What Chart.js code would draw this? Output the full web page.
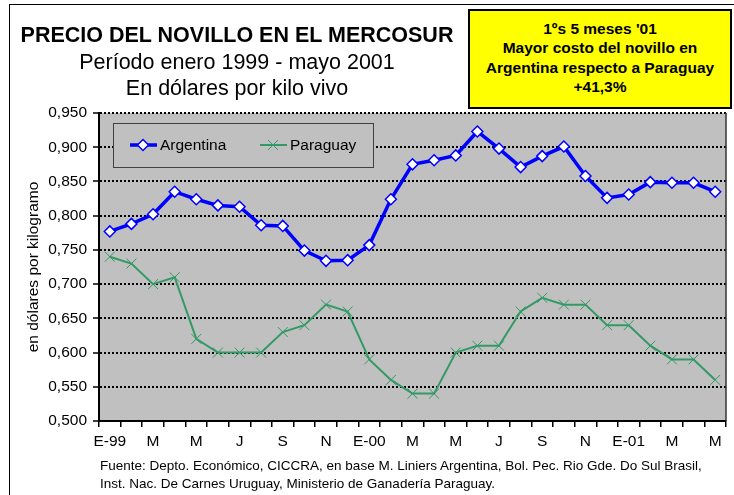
<!DOCTYPE html>
<html>
<head>
<meta charset="utf-8">
<script src="https://cdn.jsdelivr.net/npm/chart.js@4"></script>
<style>
  body { margin: 0; background: #fff; font-family: Arial, "Liberation Sans", sans-serif; }
  #wrap { position: relative; width: 734px; height: 495px; overflow: hidden; }
  #frame { position: absolute; left: 9px; top: 4px; width: 800px; height: 600px; border-left: 1.5px solid #000; border-top: 1.5px solid #000; }
  canvas { position: absolute; left: 0; top: 0; }
  .t { position: absolute; left: 0; width: 474px; text-align: center; color: #000; white-space: nowrap; }
  #title { top: 22px; font-size: 21.5px; font-weight: bold; line-height: 26px; }
  #sub1 { top: 49px; font-size: 21.5px; line-height: 26px; }
  #sub2 { top: 75px; font-size: 21.5px; line-height: 26px; }
  #note { position: absolute; left: 468px; top: 9px; width: 260px; height: 96px; background: #ffff00; border: 2px solid #000;
          text-align: center; font-size: 15.5px; font-weight: bold; line-height: 19.3px; padding-top: 8px; box-sizing: content-box; height: 88px; }
  #src { position: absolute; left: 100px; top: 457px; font-size: 13.5px; line-height: 18px; white-space: nowrap; }
</style>
</head>
<body>
<div id="wrap">
  <div id="frame"></div>
  <canvas id="chart" width="734" height="495"></canvas>
  <div class="t" id="title">PRECIO DEL NOVILLO EN EL MERCOSUR</div>
  <div class="t" id="sub1">Período enero 1999 - mayo 2001</div>
  <div class="t" id="sub2">En dólares por kilo vivo</div>
  <div id="note">1ºs 5 meses '01<br>Mayor costo del novillo en<br>Argentina respecto a Paraguay<br>+41,3%</div>
  <div id="src">Fuente: Depto. Económico, CICCRA, en base M. Liniers Argentina, Bol. Pec. Rio Gde. Do Sul Brasil,<br>Inst. Nac. De Carnes Uruguay, Ministerio de Ganadería Paraguay.</div>
</div>
<script>
// months Jan 1999 - May 2001
const months = ['E-99','F','M','A','M','J','J','A','S','O','N','D',
                'E-00','F','M','A','M','J','J','A','S','O','N','D',
                'E-01','F','M','A','M'];

const argentina = [0.777, 0.788, 0.802, 0.835, 0.824, 0.815, 0.813, 0.786, 0.785, 0.749, 0.734, 0.735,
                   0.757, 0.824, 0.875, 0.881, 0.888, 0.923, 0.898, 0.871, 0.887, 0.901, 0.858, 0.826,
                   0.831, 0.849, 0.848, 0.848, 0.835];

const paraguay = [0.74, 0.73, 0.70, 0.71, 0.62, 0.60, 0.60, 0.60, 0.63, 0.64, 0.67, 0.66,
                  0.59, 0.56, 0.54, 0.54, 0.60, 0.61, 0.61, 0.66, 0.68, 0.67, 0.67, 0.64,
                  0.64, 0.61, 0.59, 0.59, 0.56];

const yMin = 0.5, yMax = 0.95, yStep = 0.05;

const FONT = 'Arial, "Liberation Sans", sans-serif';

// gray plot background + right border + legend box
const plotDecor = {
    id: 'plotDecor',
    beforeDraw(chart) {
        const a = chart.chartArea, ctx = chart.ctx;
        ctx.save();
        ctx.fillStyle = '#c0c0c0';
        ctx.fillRect(a.left, a.top, a.right - a.left, a.bottom - a.top);
        ctx.restore();
    },
    afterDraw(chart) {
        const a = chart.chartArea, ctx = chart.ctx;
        ctx.save();
        ctx.strokeStyle = '#333';
        ctx.lineWidth = 1.5;
        ctx.beginPath();
        ctx.moveTo(a.right, a.top);
        ctx.lineTo(a.right, a.bottom);
        ctx.stroke();

        // legend
        const lx = 113, ly = 123, lw = 260, lh = 44, cy = ly + lh / 2;
        ctx.fillStyle = '#c0c0c0';
        ctx.fillRect(lx, ly, lw, lh);
        ctx.strokeStyle = '#404040';
        ctx.lineWidth = 1;
        ctx.strokeRect(lx + 0.5, ly + 0.5, lw, lh);

        const ds = chart.data.datasets;
        // Argentina
        ctx.strokeStyle = ds[0].borderColor;
        ctx.lineWidth = ds[0].borderWidth;
        ctx.beginPath(); ctx.moveTo(130, cy); ctx.lineTo(157, cy); ctx.stroke();
        ctx.fillStyle = '#fff';
        ctx.strokeStyle = ds[0].pointBorderColor;
        ctx.lineWidth = ds[0].pointBorderWidth;
        const r = ds[0].pointRadius;
        ctx.beginPath();
        ctx.moveTo(143 - r, cy); ctx.lineTo(143, cy - r); ctx.lineTo(143 + r, cy); ctx.lineTo(143, cy + r); ctx.closePath();
        ctx.fill(); ctx.stroke();
        // Paraguay
        ctx.strokeStyle = ds[1].borderColor;
        ctx.lineWidth = ds[1].borderWidth;
        ctx.beginPath(); ctx.moveTo(260, cy); ctx.lineTo(287, cy); ctx.stroke();
        ctx.lineWidth = ds[1].pointBorderWidth;
        const q = ds[1].pointRadius * Math.SQRT1_2;
        ctx.beginPath();
        ctx.moveTo(273 - q, cy - q); ctx.lineTo(273 + q, cy + q);
        ctx.moveTo(273 - q, cy + q); ctx.lineTo(273 + q, cy - q);
        ctx.stroke();

        ctx.fillStyle = '#000';
        ctx.font = '15.5px ' + FONT;
        ctx.textBaseline = 'middle';
        ctx.fillText(ds[0].label, 160, cy + 1);
        ctx.fillText(ds[1].label, 290, cy + 1);
        ctx.restore();
    }
};

new Chart(document.getElementById('chart'), {
    type: 'line',
    data: {
        labels: months,
        datasets: [{
            label: 'Argentina',
            data: argentina,
            borderColor: '#0000ff',
            borderWidth: 3.5,
            pointStyle: 'rectRot',
            pointRadius: 5.5,
            pointBackgroundColor: '#ffffff',
            pointBorderColor: '#0000ff',
            pointBorderWidth: 1.5,
            tension: 0
        }, {
            label: 'Paraguay',
            data: paraguay,
            borderColor: '#339966',
            borderWidth: 2,
            pointStyle: 'crossRot',
            pointRadius: 7,
            pointBorderColor: '#339966',
            pointBorderWidth: 1,
            tension: 0
        }]
    },
    options: {
        responsive: false,
        animation: false,
        layout: { padding: { left: 0, right: 4, top: 113, bottom: 0 } },
        plugins: {
            legend: { display: false },
            tooltip: { enabled: false }
        },
        scales: {
            x: {
                offset: true,
                grid: { offset: true, drawOnChartArea: false, drawTicks: true, tickLength: 6, color: '#000', lineWidth: 1.5 },
                border: { color: '#000', width: 2 },
                ticks: {
                    autoSkip: false, maxRotation: 0, padding: 5,
                    color: '#000', font: { family: FONT, size: 15.5 },
                    callback: function (v, i) { return i % 2 === 0 ? this.getLabelForValue(v) : ''; }
                },
                afterFit(scale) { scale.height = 74; }
            },
            y: {
                min: yMin, max: yMax,
                grid: { color: '#000', lineWidth: 2, tickLength: 6, tickBorderDash: [], tickWidth: 1.5 },
                border: { color: '#000', width: 2, dash: [2, 2] },
                ticks: {
                    stepSize: yStep, padding: 6,
                    color: '#000', font: { family: FONT, size: 15.5 },
                    callback: v => v.toFixed(3).replace('.', ',')
                },
                title: {
                    display: true, text: 'en dólares por kilogramo',
                    color: '#000', font: { family: FONT, size: 15.5 },
                    padding: { top: 24, bottom: 0 }
                },
                afterFit(scale) { scale.width = 99; }
            }
        }
    },
    plugins: [plotDecor]
});
</script>
</body>
</html>
